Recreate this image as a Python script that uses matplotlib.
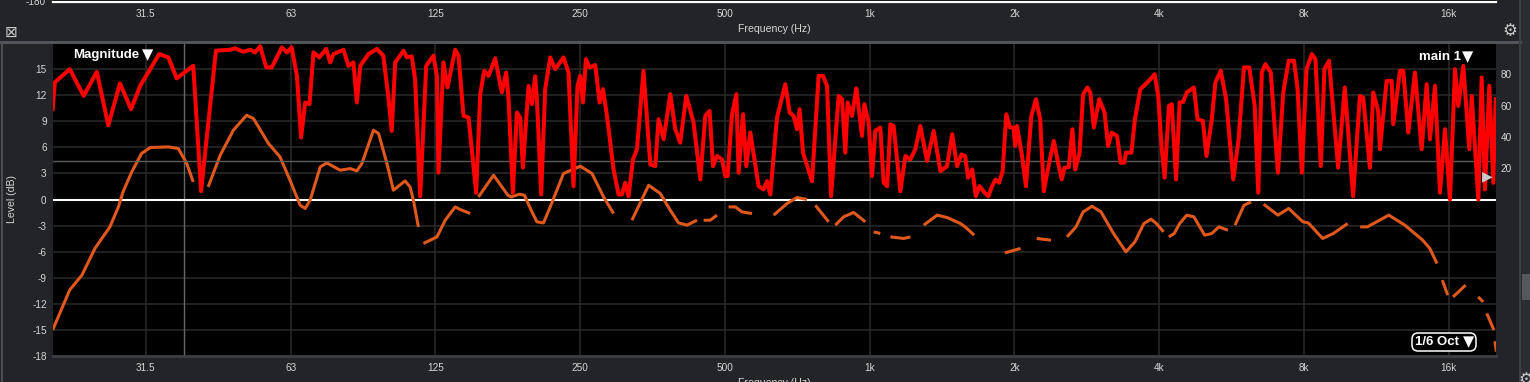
import numpy as np
import matplotlib
matplotlib.use("Agg")
import matplotlib.pyplot as plt
from matplotlib.lines import Line2D
from matplotlib.patches import Rectangle, FancyBboxPatch
from matplotlib.ticker import NullLocator

plt.rcParams['font.family'] = ['Liberation Sans', 'DejaVu Sans']
plt.rcParams['axes.unicode_minus'] = False

# ---------------- data ----------------
tick_freqs = [31.25, 62.5, 125, 250, 500, 1000, 2000, 4000, 8000, 16000]
tick_labels = ["31.5", "63", "125", "250", "500", "1k", "2k", "4k", "8k", "16k"]
db_ticks = [-18, -15, -12, -9, -6, -3, 0, 3, 6, 9, 12, 15]
coh_ticks = [20, 40, 60, 80]
cursor_freq = 37.5
coh_threshold = 24.5

# coherence (%) - right axis
coh_freq = [20, 20.2, 21.7, 23.2, 24.7, 26.1, 27.6, 29.1, 30.4, 33.3, 34.8, 36.2, 39.2, 40.7,
            43.7, 46.8, 47.9, 49.8, 51.5, 52.7, 54.0, 55.6, 57.1, 59.9, 61.4, 62.8, 64.4, 65.7,
            67.0, 68.4, 69.7, 71.7, 74.1, 75.5, 76.7, 80.5, 82.4, 84.4, 85.8, 87.2, 90.7, 94.4,
            97.4, 99.8, 101.4, 103.1, 107.3, 109.0, 111.6, 113.4, 116.2, 119.6, 123.8, 125.9,
            126.8, 129.9, 132.4, 137.4, 139.6, 143.0, 146.5, 151.9, 154.9, 157.9, 161.2, 166.4,
            171.8, 175.4, 177.4, 181.1, 184.6, 187.6, 190.0, 195.2, 198.4, 201.5, 203.2, 207.4,
            211.4, 216.6, 221.8, 230.8, 236.4, 242.1, 246.8, 250.0, 253.3, 257.0, 261.5, 268.7,
            274.3, 278.8, 284.2, 293.3, 300.4, 305.3, 310.2, 315.1, 321.9, 328.1, 338.5, 349.7,
            358.1, 363.8, 372.7, 384.8, 394.1, 403.6, 415.5, 430.2, 444.3, 455.0, 464.5, 472.2,
            481.3, 493.0, 500.8, 506.3, 517.2, 528.0, 533.8, 545.1, 553.8, 564.5, 587.4, 601.6,
            611.5, 621.2, 641.5, 667.5, 681.5, 694.6, 706.0, 714.9, 726.5, 758.6, 783.0, 799.7,
            815.1, 830.9, 861.7, 875.8, 889.8, 899.6, 918.8, 938.0, 963.8, 974.6, 994.9, 1011,
            1027, 1052, 1069, 1087, 1104, 1121, 1158, 1186, 1215, 1244, 1274, 1316, 1358, 1403,
            1448, 1484, 1519, 1552, 1579, 1601, 1634, 1662, 1691, 1735, 1765, 1796, 1827, 1858,
            1890, 1923, 1956, 1990, 2007, 2024, 2069, 2113, 2168, 2216, 2262, 2301, 2361, 2414,
            2464, 2507, 2541, 2594, 2639, 2675, 2731, 2778, 2836, 2875, 2924, 3001, 3078, 3131,
            3185, 3268, 3325, 3382, 3411, 3500, 3560, 3653, 3748, 3846, 3912, 3980, 4048, 4104,
            4189, 4247, 4335, 4410, 4486, 4563, 4722, 4804, 4929, 5014, 5144, 5233, 5369, 5509,
            5701, 5849, 6001, 6156, 6317, 6426, 6537, 6649, 6823, 7060, 7243, 7432, 7625, 7757,
            7918, 8096, 8307, 8450, 8670, 8820, 9018, 9419, 9725, 10119, 10454, 10621, 10967,
            11142, 11413, 11506, 11882, 12170, 12263, 12664, 12866, 13178, 13607, 14052, 14393,
            14622, 14977, 15340, 15711, 16093, 16481, 16744, 17150, 17651, 17855, 18429, 18731,
            19029, 19426, 19801, 20030]
coh_pct = [57.7, 74.8, 83.3, 66.2, 81.6, 47.4, 74.2, 57.7, 72.6, 92.9, 90.8, 77.4, 85.4, 5.3,
           95.1, 95.7, 96.6, 94.4, 95.7, 94.0, 97.9, 84.4, 84.4, 97.2, 94.0, 97.2, 79.0, 39.6,
           62.0, 60.9, 94.0, 90.8, 96.2, 87.6, 92.9, 95.7, 85.4, 87.6, 62.0, 85.4, 92.9, 96.2,
           91.9, 65.2, 43.8, 87.6, 95.1, 90.8, 91.5, 76.9, 2.1, 85.4, 91.9, 79.0,
           17.1, 87.6, 71.6, 95.7, 91.9, 53.4, 52.4, 4.3, 67.3, 82.2, 79.0, 90.2,
           68.4, 81.2, 64.1, 4.3, 55.6, 52.4, 20.3, 72.6, 60.9, 78.7, 64.1, 3.2,
           70.5, 90.8, 83.3, 90.8, 81.2, 8.5, 72.6, 79.0, 62.0, 89.7, 84.4, 85.9,
           62.0, 70.5, 53.4, 19.2, 3.2, 3.2, 10.7, 2.1, 25.6, 32.1, 82.2, 22.4,
           21.3, 51.3, 38.5, 67.3, 44.9, 36.3, 66.2, 49.2, 12.8, 53.4, 56.6, 21.3,
           27.8, 25.6, 14.9, 14.9, 54.5, 67.3, 17.1, 54.5, 21.3, 42.8, 8.5, 6.4,
           11.7, 3.2, 52.4, 73.7, 55.6, 53.4, 44.9, 57.7, 29.9, 11.7, 79.0, 79.0,
           72.6, 2.1, 66.2, 64.1, 29.9, 62.0, 53.4, 71.0, 40.6, 60.9, 49.2, 14.9,
           43.8, 46.0, 10.7, 8.5, 48.1, 47.0, 5.3, 27.8, 25.6, 32.1, 47.0, 24.6, 43.8, 18.1,
           21.3, 41.7, 21.3, 28.8, 27.8, 13.9, 19.2, 2.1, 8.5, 4.3, 2.1, 8.5, 12.8, 10.7,
           18.2, 54.5, 46.0, 46.0, 34.2, 47.0, 29.9, 8.5, 53.4, 64.1, 51.3, 5.3, 23.5, 37.4,
           23.5, 12.8, 20.3, 20.7, 44.9, 19.2, 29.9, 67.3, 71.6, 68.4, 46.0, 64.1, 55.6, 34.2,
           42.7, 40.6, 23.5, 23.5, 29.9, 29.9, 51.3, 70.5, 73.7, 77.4, 80.1, 66.2, 32.1, 13.9,
           59.8, 60.9, 12.8, 62.0, 62.4, 68.4, 71.6, 51.3, 50.2, 27.8, 51.3, 74.8, 82.3, 64.1,
           12.8, 38.5, 84.4, 84.4, 59.8, 4.3, 81.2, 86.5, 81.2, 17.1, 68.4, 88.7, 88.7, 70.5,
           17.1, 83.3, 92.9, 89.7, 21.4, 83.3, 88.7, 20.3, 71.6, 2.1, 66.2, 65.2, 20.3,
           68.4, 56.6, 32.1, 75.8, 75.8, 48.1, 82.3, 82.3, 42.8, 81.2, 32.1, 73.7,
           38.5, 72.6, 4.3, 44.9, 0.0, 83.3, 59.8, 85.4, 32.1, 66.2, 0.0, 78.0,
           6.4, 72.6, 10.7, 64.1]

# magnitude (dB) - left axis; None marks gaps in the trace
mag_freq = [20, 21.7, 23.0, 24.5, 26.3, 27.4, 28.0, 29.2, 30.6, 31.9, 34.8, 36.5, 38.0, 39.2, None,
            42.1, 44.6, 47.5, 50.6, 52.3, 56.2, 59.4, 62.3, 65.4, 67.0, 68.6, 72.0, 74.3, 79.2,
            83.1, 85.8, 87.9, 92.9, 95.2, 99.1, 102.2, 108.1, 110.7, 112.5, 115.2, None,
            118.0, 125.9, 131.0, 137.4, 140.7, 147.6, None,
            153.6, 165.1, 176.9, 179.7, 186.9, 191.4, 197.7, 203.2, 209.7, 216.6, 230.8, 250.0,
            264.5, 279.6, 293.3, None,
            320.3, 346.9, 366.8, 384.8, 400.4, 416.9, 437.3, None,
            451.5, 466.1, 481.3, None,
            508.8, 525.4, 542.6, 569.2, None,
            631.2, 673.0, 706.0, 740.7, None,
            770.8, 821.4, None,
            848.3, 882.6, 925.9, 979.3, None,
            1019, 1052, None,
            1104, 1176.5, 1215, None,
            1295, 1381, 1448, 1544, 1579, 1649, None,
            1909, 2059, None,
            2224, 2382, None,
            2572, 2685, 2778, 2899, 3027, 3213, 3411, 3560, 3716, 3846, 3945, 4084, None,
            4189, 4298, 4410, 4563, 4722, 4972, 5144, 5322, 5557, None,
            5750, 6001, 6209, None,
            6593, 7060, 7432, 7959, 8165, 8745, 9207, 9857, None,
            10468, 10832, 12004, 12964, 14123, 14612, 15121, None,
            15515, 15918, None,
            16332, 17339, None,
            18413, 18870, None,
            19196, 19858, None,
            19950, 20100]
mag_db = [-15.0, -10.4, -8.7, -5.6, -3.15, -0.85, 0.87, 3.17, 5.29, 5.98, 6.05, 5.86, 4.14, 2.02, None,
          1.45, 5.09, 7.97, 9.69, 9.31, 6.44, 4.9, 2.22, -0.66, -1.03, -0.08, 3.75, 4.21, 3.37,
          3.56, 3.29, 4.14, 7.97, 7.59, 4.14, 1.07, 2.14, 1.45, -0.08, -3.15, None,
          -5.06, -4.3, -2.38, -0.85, -1.15, -1.61, None,
          0.3, 2.79, 0.49, 0.3, 0.61, 0.49, -1.23, -2.57, -2.69, -0.85, 2.99, 3.83,
          2.99, 0.3, -1.61, None,
          -2.38, 1.64, 0.69, -1.23, -2.69, -2.95, -2.38, None,
          -2.38, -2.38, -1.8, None,
          -0.85, -0.85, -1.43, -1.61, None,
          -1.8, -0.46, 0.23, 0.0, None,
          -0.66, -2.57, None,
          -2.95, -1.99, -1.49, -2.57, None,
          -3.72, -3.9, None,
          -4.3, -4.48, -4.3, None,
          -2.95, -1.8, -2.07, -2.76, -3.15, -4.1, None,
          -6.14, -5.63, None,
          -4.48, -4.68, None,
          -4.3, -3.15, -1.43, -0.77, -1.43, -3.91, -6.02, -4.87, -2.76, -2.26, -2.76, -3.72, None,
          -4.3, -3.91, -2.76, -1.8, -2.0, -4.1, -3.91, -3.15, -3.53, None,
          -2.95, -0.66, -0.28, None,
          -0.54, -1.8, -1.03, -2.57, -2.69, -4.48, -3.91, -2.76, None,
          -3.15, -3.15, -1.8, -2.95, -4.68, -5.63, -7.36, None,
          -9.28, -11.0, None,
          -11.2, -9.85, None,
          -11.2, -11.77, None,
          -13.1, -15.0, None,
          -16.3, -17.5]

# ---------------- style ----------------
W, H = 1530, 382
BG = '#222428'
TXT = '#d6d6d6'
RED = '#ff0000'
ORANGE = '#e0581c'
GRID = '#2b2b2b'
FS = 7.2

def fx(px):
    return px / W

def fy(py):
    return 1 - py / H

fig = plt.figure(figsize=(W / 100, H / 100), dpi=100, facecolor=BG)

# ---------- top strip (bottom of previous panel) ----------
axt = fig.add_axes([fx(52.7), fy(2.2), fx(1495.7) - fx(52.7), 2.2 / H])
axt.set_facecolor('black')
axt.set_xscale('log')
axt.set_xlim(20, 20030)
axt.set_yticks([])
axt.set_xticks(tick_freqs)
axt.set_xticklabels(tick_labels)
axt.xaxis.set_minor_locator(NullLocator())
axt.tick_params(axis='x', length=0, colors=TXT, labelsize=FS, pad=5.0)
for s in ['top', 'left', 'right']:
    axt.spines[s].set_visible(False)
axt.spines['bottom'].set_color('white')
axt.spines['bottom'].set_linewidth(1.6)
axt.set_xlabel('Frequency (Hz)', color=TXT, fontsize=7.6, labelpad=3.5)
fig.text(fx(46), fy(2), '-180', color=TXT, fontsize=FS, ha='right', va='center')

# separator and frame pieces
fig.add_artist(Line2D([0, fx(1520)], [fy(42), fy(42)], color='#55595f', lw=2))
fig.add_artist(Line2D([fx(1520), fx(1520)], [0, 1], color='#3c3f44', lw=1.5))
fig.add_artist(Rectangle((fx(1521), 0), fx(1530) - fx(1521), 1, color='#2a2d31', lw=0))
fig.add_artist(Rectangle((fx(1522), fy(300)), fx(1530) - fx(1522), 26 / H,
                         color='#55595f', lw=0))
fig.add_artist(Line2D([fx(1.5), fx(1.5)], [0, fy(43)], color='#4a4d52', lw=1.5))

fig.text(fx(11), fy(32), '\u22a0', color='#c8c8c8', fontsize=11, ha='center', va='center',
         family=['DejaVu Sans'])
fig.text(fx(1510), fy(31), '\u2699', color='#c8c8c8', fontsize=12, ha='center', va='center',
         family=['DejaVu Sans'])
fig.text(fx(1526), fy(380), '\u2699', color='#c8c8c8', fontsize=12, ha='center', va='center',
         family=['DejaVu Sans'])

# ---------- main panel ----------
ax = fig.add_axes([fx(52.7), fy(356), fx(1495.7) - fx(52.7), 313 / H])
ax.set_facecolor('black')
ax.set_xscale('log')
ax.set_xlim(20, 20030)
ax.set_ylim(-18, 18)
ax.set_xticks(tick_freqs)
ax.set_xticklabels(tick_labels)
ax.xaxis.set_minor_locator(NullLocator())
ax.set_yticks(db_ticks)
ax.set_yticklabels([str(v) for v in db_ticks])
ax.grid(True, color=GRID, lw=1.1)
ax.set_axisbelow(True)
ax.tick_params(length=0, colors=TXT, labelsize=FS)
ax.tick_params(axis='y', pad=4.3)
ax.tick_params(axis='x', pad=5.0)
for s in ['top', 'left', 'right']:
    ax.spines[s].set_visible(False)
ax.spines['bottom'].set_color('#3b3e43')
ax.spines['bottom'].set_linewidth(2)
ax.set_xlabel('Frequency (Hz)', color=TXT, fontsize=7.6, labelpad=4)

ax.axvline(cursor_freq, color='#686868', lw=1)
ax.axhline(0, color='white', lw=1.5, zorder=3)

mf = np.array(mag_freq, dtype=float)
md = np.array(mag_db, dtype=float)
ax.plot(mf, md, color=ORANGE, lw=2.2, solid_capstyle='butt', zorder=4)

ax2 = ax.twinx()
ax2.set_ylim(-100, 100)
ax2.set_yticks(coh_ticks)
ax2.set_yticklabels([str(v) for v in coh_ticks])
ax2.tick_params(length=0, colors=TXT, labelsize=FS, pad=3.6)
for s in ax2.spines.values():
    s.set_visible(False)
ax2.axhline(coh_threshold, color='#5c5c5c', lw=1, zorder=1)
ax2.plot(coh_freq, coh_pct, color=RED, lw=2.9, zorder=5)
ax2.set_xlim(20, 20030)

fig.text(fx(12), fy(199.5), 'Level (dB)', color=TXT, fontsize=7.6, rotation=90,
         ha='center', va='center')

# labels inside plot (text + separate large triangle glyph)
LBL = dict(color='white', fontsize=9.5, fontweight='bold', va='center', zorder=10)
TRI = dict(color='white', fontsize=10.5, va='center', ha='right', zorder=10,
           family=['DejaVu Sans'])
fig.text(fx(73), fy(55), 'Magnitude', ha='left', **LBL)
fig.text(fx(153), fy(55), '\u25bc', **TRI)
fig.text(fx(1461), fy(57), 'main 1', ha='right', **LBL)
fig.text(fx(1473), fy(57), '\u25bc', **TRI)

box = FancyBboxPatch((fx(1412), fy(351)), fx(1476) - fx(1412), 18 / H,
                     boxstyle='round,pad=0,rounding_size=0.004', fc='black', ec='white',
                     lw=1.1, transform=fig.transFigure, zorder=9, mutation_aspect=4)
fig.add_artist(box)
fig.text(fx(1415), fy(342), '1/6 Oct', ha='left', **LBL)
fig.text(fx(1474), fy(342), '\u25bc', **TRI)

fig.text(fx(1487), fy(176), '\u25b6', color='#c8c8c8', fontsize=10, ha='center', va='center',
         family=['DejaVu Sans'], zorder=10)

fig.savefig('out.png', dpi=100, facecolor=BG)
